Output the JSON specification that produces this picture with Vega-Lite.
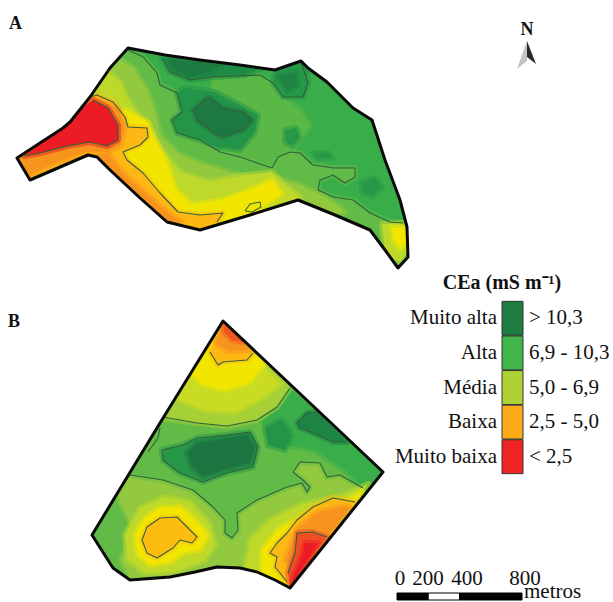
{"$schema":"https://vega.github.io/schema/vega-lite/v6.json","width":613,"height":602,"padding":0,"autosize":{"type":"fit","contains":"padding"},"background":"white","view":{"stroke":null},"resolve":{"scale":{"x":"independent","fill":"independent"}},
"datasets":{"zones":[
{"type":"Feature","properties":{"ce":9.5},"geometry":{"type":"Polygon","coordinates":[[[128,48],[165,55],[200,60],[240,65],[275,70],[301,61],[308,68],[327,82],[353,108],[372,120],[385,160],[400,200],[407,227],[408,257],[398,268],[385,250],[370,230],[335,215],[298,200],[250,215],[200,230],[167,222],[140,198],[110,170],[97,157],[88,155],[30,180],[17,158],[63,128],[70,122],[90,97],[110,68],[128,48]]]}},
{"type":"Feature","properties":{"ce":8.7},"geometry":{"type":"Polygon","coordinates":[[[213,78],[260,76],[273,84],[283,98],[300,110],[310,125],[300,140],[290,152],[278,157],[272,168],[240,157],[220,152],[235,135],[255,120],[245,108],[225,100],[212,90],[213,78]]]}},
{"type":"Feature","properties":{"ce":8.5},"geometry":{"type":"Polygon","coordinates":[[[128,50],[143,57],[157,73],[160,85],[177,93],[182,112],[172,120],[177,133],[200,140],[220,152],[240,157],[272,168],[278,157],[290,152],[300,153],[313,165],[333,168],[355,168],[355,177],[345,183],[333,175],[320,180],[318,190],[333,197],[353,200],[370,213],[390,222],[403,223],[407,227],[408,257],[398,268],[385,250],[370,230],[335,215],[298,200],[250,215],[200,230],[167,222],[140,198],[110,170],[97,157],[88,155],[30,180],[17,158],[63,128],[70,122],[90,97],[110,68],[128,50]]]}},
{"type":"Feature","properties":{"ce":7.6},"geometry":{"type":"Polygon","coordinates":[[[120,60],[133,68],[147,90],[155,112],[160,135],[180,155],[205,165],[240,175],[275,178],[300,185],[330,200],[345,212],[335,215],[298,200],[250,215],[200,230],[167,222],[140,198],[110,170],[97,157],[88,155],[30,180],[17,158],[63,128],[70,122],[90,97],[110,68],[120,60]]]}},
{"type":"Feature","properties":{"ce":6.7},"geometry":{"type":"Polygon","coordinates":[[[108,72],[120,82],[128,100],[140,118],[150,130],[162,150],[180,172],[210,182],[240,176],[272,172],[285,185],[300,197],[298,200],[250,215],[200,230],[167,222],[140,198],[110,170],[97,157],[88,155],[30,180],[17,158],[63,128],[70,122],[90,97],[108,72]]]}},
{"type":"Feature","properties":{"ce":5.5},"geometry":{"type":"Polygon","coordinates":[[[125,110],[148,122],[156,142],[167,163],[176,190],[192,205],[222,200],[250,190],[272,180],[282,194],[250,215],[200,230],[167,222],[140,198],[110,170],[110,130],[125,110]]]}},
{"type":"Feature","properties":{"ce":4.5},"geometry":{"type":"Polygon","coordinates":[[[90,97],[97,95],[113,102],[125,117],[128,127],[147,128],[148,137],[140,145],[123,152],[127,160],[143,173],[160,193],[178,212],[200,215],[223,213],[217,222],[200,230],[167,222],[140,198],[110,170],[97,157],[88,155],[30,180],[17,158],[63,128],[70,122],[90,97]]]}},
{"type":"Feature","properties":{"ce":3.5},"geometry":{"type":"Polygon","coordinates":[[[108,153],[122,172],[142,190],[162,208],[182,222],[172,224],[167,222],[140,198],[110,170],[97,157],[108,153]]]}},
{"type":"Feature","properties":{"ce":3.5},"geometry":{"type":"Polygon","coordinates":[[[19,160],[45,150],[90,138],[112,140],[114,120],[106,104],[95,98],[118,108],[125,130],[120,146],[108,152],[85,152],[55,163],[26,176],[19,160]]]}},
{"type":"Feature","properties":{"ce":1.5},"geometry":{"type":"Polygon","coordinates":[[[93,100],[108,108],[118,125],[118,140],[107,146],[90,142],[67,146],[40,153],[24,156],[63,128],[72,120],[82,108],[93,100]]]}},
{"type":"Feature","properties":{"ce":5.5},"geometry":{"type":"Polygon","coordinates":[[[245,211],[250,204],[260,202],[261,207],[252,212],[245,211]]]}},
{"type":"Feature","properties":{"ce":6.7},"geometry":{"type":"Polygon","coordinates":[[[382,224],[403,223],[407,227],[408,250],[401,261],[393,260],[385,250],[382,224]]]}},
{"type":"Feature","properties":{"ce":5.5},"geometry":{"type":"Polygon","coordinates":[[[392,228],[405,228],[406,242],[400,248],[394,240],[392,228]]]}},
{"type":"Feature","properties":{"ce":10.6},"geometry":{"type":"Polygon","coordinates":[[[162,58],[200,60],[240,65],[262,68],[245,75],[213,77],[190,80],[170,72],[162,58]]]}},
{"type":"Feature","properties":{"ce":11.2},"geometry":{"type":"Polygon","coordinates":[[[168,60],[200,62],[222,65],[205,74],[190,76],[175,70],[168,60]]]}},
{"type":"Feature","properties":{"ce":10.2},"geometry":{"type":"Polygon","coordinates":[[[275,71],[301,62],[308,70],[308,83],[303,97],[283,97],[273,83],[275,71]]]}},
{"type":"Feature","properties":{"ce":10.9},"geometry":{"type":"Polygon","coordinates":[[[278,76],[296,72],[298,85],[288,91],[278,76]]]}},
{"type":"Feature","properties":{"ce":10.3},"geometry":{"type":"Polygon","coordinates":[[[177,93],[182,112],[172,120],[177,133],[200,140],[217,147],[240,150],[255,132],[258,115],[240,105],[215,92],[200,90],[185,88],[177,93]]]}},
{"type":"Feature","properties":{"ce":11.3},"geometry":{"type":"Polygon","coordinates":[[[207,98],[193,110],[197,120],[217,135],[223,137],[243,130],[252,120],[243,112],[223,108],[210,98],[207,98]]]}},
{"type":"Feature","properties":{"ce":10.2},"geometry":{"type":"Polygon","coordinates":[[[285,130],[296,128],[300,138],[292,146],[285,142],[285,130]]]}},
{"type":"Feature","properties":{"ce":10.2},"geometry":{"type":"Polygon","coordinates":[[[362,182],[375,178],[382,188],[372,196],[362,192],[362,182]]]}},
{"type":"Feature","properties":{"ce":10.2},"geometry":{"type":"Polygon","coordinates":[[[314,153],[328,153],[332,158],[318,158],[314,153]]]}},
{"type":"Feature","properties":{"ce":7.6},"geometry":{"type":"Polygon","coordinates":[[[223,321],[383,472],[290,588],[275,580],[257,572],[240,568],[217,567],[195,572],[170,577],[130,580],[113,568],[92,535],[160,423],[223,321]]]}},
{"type":"Feature","properties":{"ce":8.5},"geometry":{"type":"Polygon","coordinates":[[[92,535],[115,497],[130,530],[118,560],[125,575],[113,568],[92,535]]]}},
{"type":"Feature","properties":{"ce":8.5},"geometry":{"type":"Polygon","coordinates":[[[130,475],[163,480],[193,490],[213,507],[225,520],[225,533],[232,538],[238,530],[237,513],[257,500],[287,487],[302,483],[307,492],[310,487],[303,480],[293,472],[300,462],[320,463],[327,477],[340,475],[363,488],[383,472],[290,388],[277,407],[257,420],[227,426],[197,423],[163,417],[160,423],[130,475]]]}},
{"type":"Feature","properties":{"ce":9.5},"geometry":{"type":"Polygon","coordinates":[[[290,388],[383,472],[365,490],[345,470],[315,450],[285,445],[262,422],[277,407],[290,388]]]}},
{"type":"Feature","properties":{"ce":10.3},"geometry":{"type":"Polygon","coordinates":[[[265,428],[282,420],[292,435],[285,450],[268,445],[265,428]]]}},
{"type":"Feature","properties":{"ce":10.9},"geometry":{"type":"Polygon","coordinates":[[[297,423],[307,413],[317,412],[347,442],[333,442],[313,433],[300,428],[297,423]]]}},
{"type":"Feature","properties":{"ce":7.2},"geometry":{"type":"Polygon","coordinates":[[[162,418],[197,423],[227,426],[257,420],[277,407],[290,388],[223,321],[162,418]]]}},
{"type":"Feature","properties":{"ce":6.5},"geometry":{"type":"Polygon","coordinates":[[[175,398],[205,410],[235,412],[262,398],[280,384],[223,321],[175,398]]]}},
{"type":"Feature","properties":{"ce":5.5},"geometry":{"type":"Polygon","coordinates":[[[190,372],[202,384],[225,390],[250,382],[264,364],[223,321],[190,372]]]}},
{"type":"Feature","properties":{"ce":4.5},"geometry":{"type":"Polygon","coordinates":[[[210,352],[218,365],[223,362],[247,360],[253,353],[223,321],[210,352]]]}},
{"type":"Feature","properties":{"ce":3.5},"geometry":{"type":"Polygon","coordinates":[[[223,321],[250,350],[228,351],[216,343],[223,321]]]}},
{"type":"Feature","properties":{"ce":2.6},"geometry":{"type":"Polygon","coordinates":[[[223,322],[244,342],[232,340],[224,332],[223,322]]]}},
{"type":"Feature","properties":{"ce":10.2},"geometry":{"type":"Polygon","coordinates":[[[162,450],[183,445],[197,438],[227,435],[250,432],[258,447],[253,467],[227,473],[203,482],[180,473],[163,460],[162,450]]]}},
{"type":"Feature","properties":{"ce":11.4},"geometry":{"type":"Polygon","coordinates":[[[187,453],[197,443],[227,438],[247,435],[255,447],[250,463],[223,470],[203,477],[192,467],[187,453]]]}},
{"type":"Feature","properties":{"ce":6.7},"geometry":{"type":"Polygon","coordinates":[[[125,535],[140,508],[165,497],[190,502],[210,525],[215,545],[205,560],[175,572],[145,573],[128,560],[125,535]]]}},
{"type":"Feature","properties":{"ce":5.5},"geometry":{"type":"Polygon","coordinates":[[[135,535],[145,518],[160,508],[180,507],[195,520],[208,535],[200,550],[185,552],[170,562],[150,565],[138,555],[135,535]]]}},
{"type":"Feature","properties":{"ce":4.6},"geometry":{"type":"Polygon","coordinates":[[[160,518],[177,517],[187,527],[197,537],[192,543],[180,540],[173,548],[157,558],[147,553],[142,540],[147,527],[160,518]]]}},
{"type":"Feature","properties":{"ce":6.7},"geometry":{"type":"Polygon","coordinates":[[[245,570],[250,540],[270,520],[300,505],[345,495],[368,484],[290,588],[275,580],[257,572],[245,570]]]}},
{"type":"Feature","properties":{"ce":5.5},"geometry":{"type":"Polygon","coordinates":[[[262,574],[262,550],[278,530],[310,512],[345,503],[362,492],[290,588],[275,580],[262,574]]]}},
{"type":"Feature","properties":{"ce":4.5},"geometry":{"type":"Polygon","coordinates":[[[270,553],[277,543],[287,533],[297,520],[313,507],[333,498],[355,502],[290,588],[280,573],[275,567],[277,557],[270,553]]]}},
{"type":"Feature","properties":{"ce":3.5},"geometry":{"type":"Polygon","coordinates":[[[285,560],[298,528],[318,512],[345,506],[350,508],[315,552],[298,575],[285,560]]]}},
{"type":"Feature","properties":{"ce":2.5},"geometry":{"type":"Polygon","coordinates":[[[288,573],[295,553],[297,533],[313,532],[327,537],[290,586],[288,573]]]}},
{"type":"Feature","properties":{"ce":1.5},"geometry":{"type":"Polygon","coordinates":[[[293,578],[303,553],[305,543],[318,543],[292,584],[293,578]]]}}
],
"mask":[{"type":"Feature","geometry":{"type":"Polygon","coordinates":[[[0,0],[0,602],[613,602],[613,0],[0,0]],[[128,48],[165,55],[200,60],[240,65],[275,70],[301,61],[308,68],[327,82],[353,108],[372,120],[385,160],[400,200],[407,227],[408,257],[398,268],[385,250],[370,230],[335,215],[298,200],[250,215],[200,230],[167,222],[140,198],[110,170],[97,157],[88,155],[30,180],[17,158],[63,128],[70,122],[90,97],[110,68],[128,48]],[[223,321],[383,472],[290,588],[275,580],[257,572],[240,568],[217,567],[195,572],[170,577],[130,580],[113,568],[92,535],[160,423],[223,321]]]}}],
"contours":[
{"type":"Feature","geometry":{"type":"LineString","coordinates":[[128,50],[143,57],[157,73],[160,85],[177,93],[182,112],[172,120],[177,133],[200,140],[220,152],[240,157],[272,168],[278,157],[290,152],[300,153],[313,165],[333,168],[355,168],[355,177],[345,183],[333,175],[320,180],[318,190],[333,197],[353,200],[370,213],[390,222],[403,223]]}},
{"type":"Feature","geometry":{"type":"LineString","coordinates":[[162,58],[170,72],[190,80],[213,77],[260,75],[273,83],[283,97],[303,97],[308,83],[301,62]]}},
{"type":"Feature","geometry":{"type":"LineString","coordinates":[[210,98],[207,98],[193,110],[197,120],[217,135],[223,137],[243,130],[252,120],[243,112],[223,108],[210,98]]}},
{"type":"Feature","geometry":{"type":"LineString","coordinates":[[90,97],[97,95],[113,102],[125,117],[128,127],[147,128],[148,137],[140,145],[123,152],[127,160],[143,173],[160,193],[178,212],[200,215],[223,213],[217,222]]}},
{"type":"Feature","geometry":{"type":"LineString","coordinates":[[93,100],[108,108],[118,125],[118,140],[107,146],[90,142],[67,146],[40,153],[24,156]]}},
{"type":"Feature","geometry":{"type":"LineString","coordinates":[[245,211],[250,204],[260,202],[261,207],[252,212],[245,211]]}},
{"type":"Feature","geometry":{"type":"LineString","coordinates":[[163,417],[197,423],[227,426],[257,420],[277,407],[290,388]]}},
{"type":"Feature","geometry":{"type":"LineString","coordinates":[[210,352],[218,365],[223,362],[247,360],[253,353]]}},
{"type":"Feature","geometry":{"type":"LineString","coordinates":[[297,423],[307,413],[317,412]]}},
{"type":"Feature","geometry":{"type":"LineString","coordinates":[[297,423],[300,428],[313,433],[333,442],[347,442]]}},
{"type":"Feature","geometry":{"type":"LineString","coordinates":[[162,450],[183,445],[197,438],[227,435],[250,432],[258,447],[253,467],[227,473],[203,482],[180,473],[163,460],[162,450]]}},
{"type":"Feature","geometry":{"type":"LineString","coordinates":[[130,475],[163,480],[193,490],[213,507],[225,520],[225,533],[232,538],[238,530],[237,513],[257,500],[287,487],[302,483],[307,492],[310,487],[303,480],[293,472],[300,462],[320,463],[327,477],[340,475],[363,488]]}},
{"type":"Feature","geometry":{"type":"LineString","coordinates":[[160,428],[158,438],[148,452]]}},
{"type":"Feature","geometry":{"type":"LineString","coordinates":[[160,518],[177,517],[187,527],[197,537],[192,543],[180,540],[173,548],[157,558],[147,553],[142,540],[147,527],[160,518]]}},
{"type":"Feature","geometry":{"type":"LineString","coordinates":[[355,502],[333,498],[313,507],[297,520],[287,533],[277,543],[270,553],[277,557],[275,567],[280,573],[287,582]]}},
{"type":"Feature","geometry":{"type":"LineString","coordinates":[[288,573],[295,553],[297,533],[313,532],[327,537]]}}
],
"boundaries":[
{"type":"Feature","geometry":{"type":"Polygon","coordinates":[[[128,48],[165,55],[200,60],[240,65],[275,70],[301,61],[308,68],[327,82],[353,108],[372,120],[385,160],[400,200],[407,227],[408,257],[398,268],[385,250],[370,230],[335,215],[298,200],[250,215],[200,230],[167,222],[140,198],[110,170],[97,157],[88,155],[30,180],[17,158],[63,128],[70,122],[90,97],[110,68],[128,48]]]}},
{"type":"Feature","geometry":{"type":"Polygon","coordinates":[[[223,321],[383,472],[290,588],[275,580],[257,572],[240,568],[217,567],[195,572],[170,577],[130,580],[113,568],[92,535],[160,423],[223,321]]]}}
],
"arrow":[
{"type":"Feature","properties":{"side":"light"},"geometry":{"type":"Polygon","coordinates":[[[527,41],[517,69],[527,61],[527,41]]]}},
{"type":"Feature","properties":{"side":"dark"},"geometry":{"type":"Polygon","coordinates":[[[527,41],[536,64],[527,57],[527,41]]]}}
],
"classes":[
{"classe":"Muito alta","faixa":"> 10,3"},
{"classe":"Alta","faixa":"6,9 - 10,3"},
{"classe":"Média","faixa":"5,0 - 6,9"},
{"classe":"Baixa","faixa":"2,5 - 5,0"},
{"classe":"Muito baixa","faixa":"< 2,5"}
],
"scalebar":[{"from":0,"to":200,"part":"a"},{"from":200,"to":400,"part":"b"},{"from":400,"to":800,"part":"a"}],
"scaleticks":[{"m":0},{"m":200},{"m":400},{"m":800}]
},
"projection":{"type":"identity","scale":1,"translate":[0,0]},
"layer":[
{"data":{"name":"zones"},"mark":{"type":"geoshape","strokeWidth":6,"strokeOpacity":0.5,"strokeJoin":"round"},"encoding":{"fill":{"field":"properties.ce","type":"quantitative","legend":null,"scale":{"domain":[1.5,2.5,3.5,4.5,5.5,6.5,7.5,8.5,9.5,10.5,11.5],"range":["#ec1c24","#f04e23","#f7941d","#fdb813","#f2e600","#c9dc23","#97ca3d","#62bb46","#39ad4a","#1f8f47","#1d7340"]}},"stroke":{"field":"properties.ce","type":"quantitative","legend":null,"scale":{"domain":[1.5,2.5,3.5,4.5,5.5,6.5,7.5,8.5,9.5,10.5,11.5],"range":["#ec1c24","#f04e23","#f7941d","#fdb813","#f2e600","#c9dc23","#97ca3d","#62bb46","#39ad4a","#1f8f47","#1d7340"]}}}},
{"data":{"name":"mask"},"mark":{"type":"geoshape","fill":"white","strokeWidth":0},"encoding":{}},
{"data":{"name":"contours"},"mark":{"type":"geoshape","filled":false,"stroke":"#33603c","strokeWidth":1.1,"strokeJoin":"round"},"encoding":{}},
{"data":{"name":"boundaries"},"mark":{"type":"geoshape","filled":false,"stroke":"#0a0a0a","strokeWidth":3,"strokeJoin":"round"},"encoding":{}},
{"data":{"name":"arrow"},"mark":{"type":"geoshape","strokeWidth":0},"encoding":{"fill":{"field":"properties.side","type":"nominal","legend":null,"scale":{"domain":["light","dark"],"range":["#c4c4c4","#2a2a2a"]}}}},
{"data":{"name":"classes"},"mark":{"type":"rect","stroke":"#333333","strokeWidth":1},"encoding":{"x":{"value":502},"x2":{"value":523},"y":{"field":"classe","type":"nominal","axis":null,"scale":{"domain":["Muito alta","Alta","Média","Baixa","Muito baixa"],"range":[301,474],"paddingInner":0.02}},"fill":{"field":"classe","type":"nominal","legend":null,"scale":{"domain":["Muito alta","Alta","Média","Baixa","Muito baixa"],"range":["#1d7c40","#3fb54a","#afd135","#fbaa19","#ee2524"]}}}},
{"data":{"name":"classes"},"mark":{"type":"text","font":"Liberation Serif","fontSize":21,"align":"right","baseline":"middle","color":"#111111"},"encoding":{"x":{"value":497},"y":{"field":"classe","type":"nominal","axis":null},"text":{"field":"classe"}}},
{"data":{"name":"classes"},"mark":{"type":"text","font":"Liberation Serif","fontSize":21,"align":"left","baseline":"middle","color":"#111111"},"encoding":{"x":{"value":529},"y":{"field":"classe","type":"nominal","axis":null},"text":{"field":"faixa"}}},
{"data":{"values":[{"t":"CEa (mS m⁻¹)"}]},"mark":{"type":"text","font":"Liberation Serif","fontSize":20,"fontWeight":"bold","align":"center","baseline":"alphabetic","color":"#111111"},"encoding":{"x":{"value":502},"y":{"value":289},"text":{"field":"t"}}},
{"data":{"values":[{"t":"A"}]},"mark":{"type":"text","font":"Liberation Serif","fontSize":18,"fontWeight":"bold","align":"left","baseline":"alphabetic","color":"#111111"},"encoding":{"x":{"value":9},"y":{"value":29},"text":{"field":"t"}}},
{"data":{"values":[{"t":"B"}]},"mark":{"type":"text","font":"Liberation Serif","fontSize":18,"fontWeight":"bold","align":"left","baseline":"alphabetic","color":"#111111"},"encoding":{"x":{"value":8},"y":{"value":327},"text":{"field":"t"}}},
{"data":{"values":[{"t":"N"}]},"mark":{"type":"text","font":"Liberation Serif","fontSize":18,"fontWeight":"bold","align":"center","baseline":"alphabetic","color":"#111111"},"encoding":{"x":{"value":527},"y":{"value":35},"text":{"field":"t"}}},
{"data":{"name":"scalebar"},"mark":{"type":"rect","stroke":"#000000","strokeWidth":1},"encoding":{"x":{"field":"from","type":"quantitative","axis":null,"scale":{"domain":[0,800],"range":[397,522]}},"x2":{"field":"to"},"y":{"value":593},"y2":{"value":600},"fill":{"field":"part","type":"nominal","legend":null,"scale":{"domain":["a","b"],"range":["#000000","#ffffff"]}}}},
{"data":{"name":"scaleticks"},"mark":{"type":"text","font":"Liberation Serif","fontSize":21,"align":"center","baseline":"alphabetic","color":"#111111"},"encoding":{"x":{"field":"m","type":"quantitative","axis":null,"scale":{"domain":[0,200,400,800],"range":[400,428,467,525]}},"y":{"value":585},"text":{"field":"m"}}},
{"data":{"values":[{"t":"metros"}]},"mark":{"type":"text","font":"Liberation Serif","fontSize":21,"align":"left","baseline":"alphabetic","color":"#111111"},"encoding":{"x":{"value":524},"y":{"value":598},"text":{"field":"t"}}}
]}
